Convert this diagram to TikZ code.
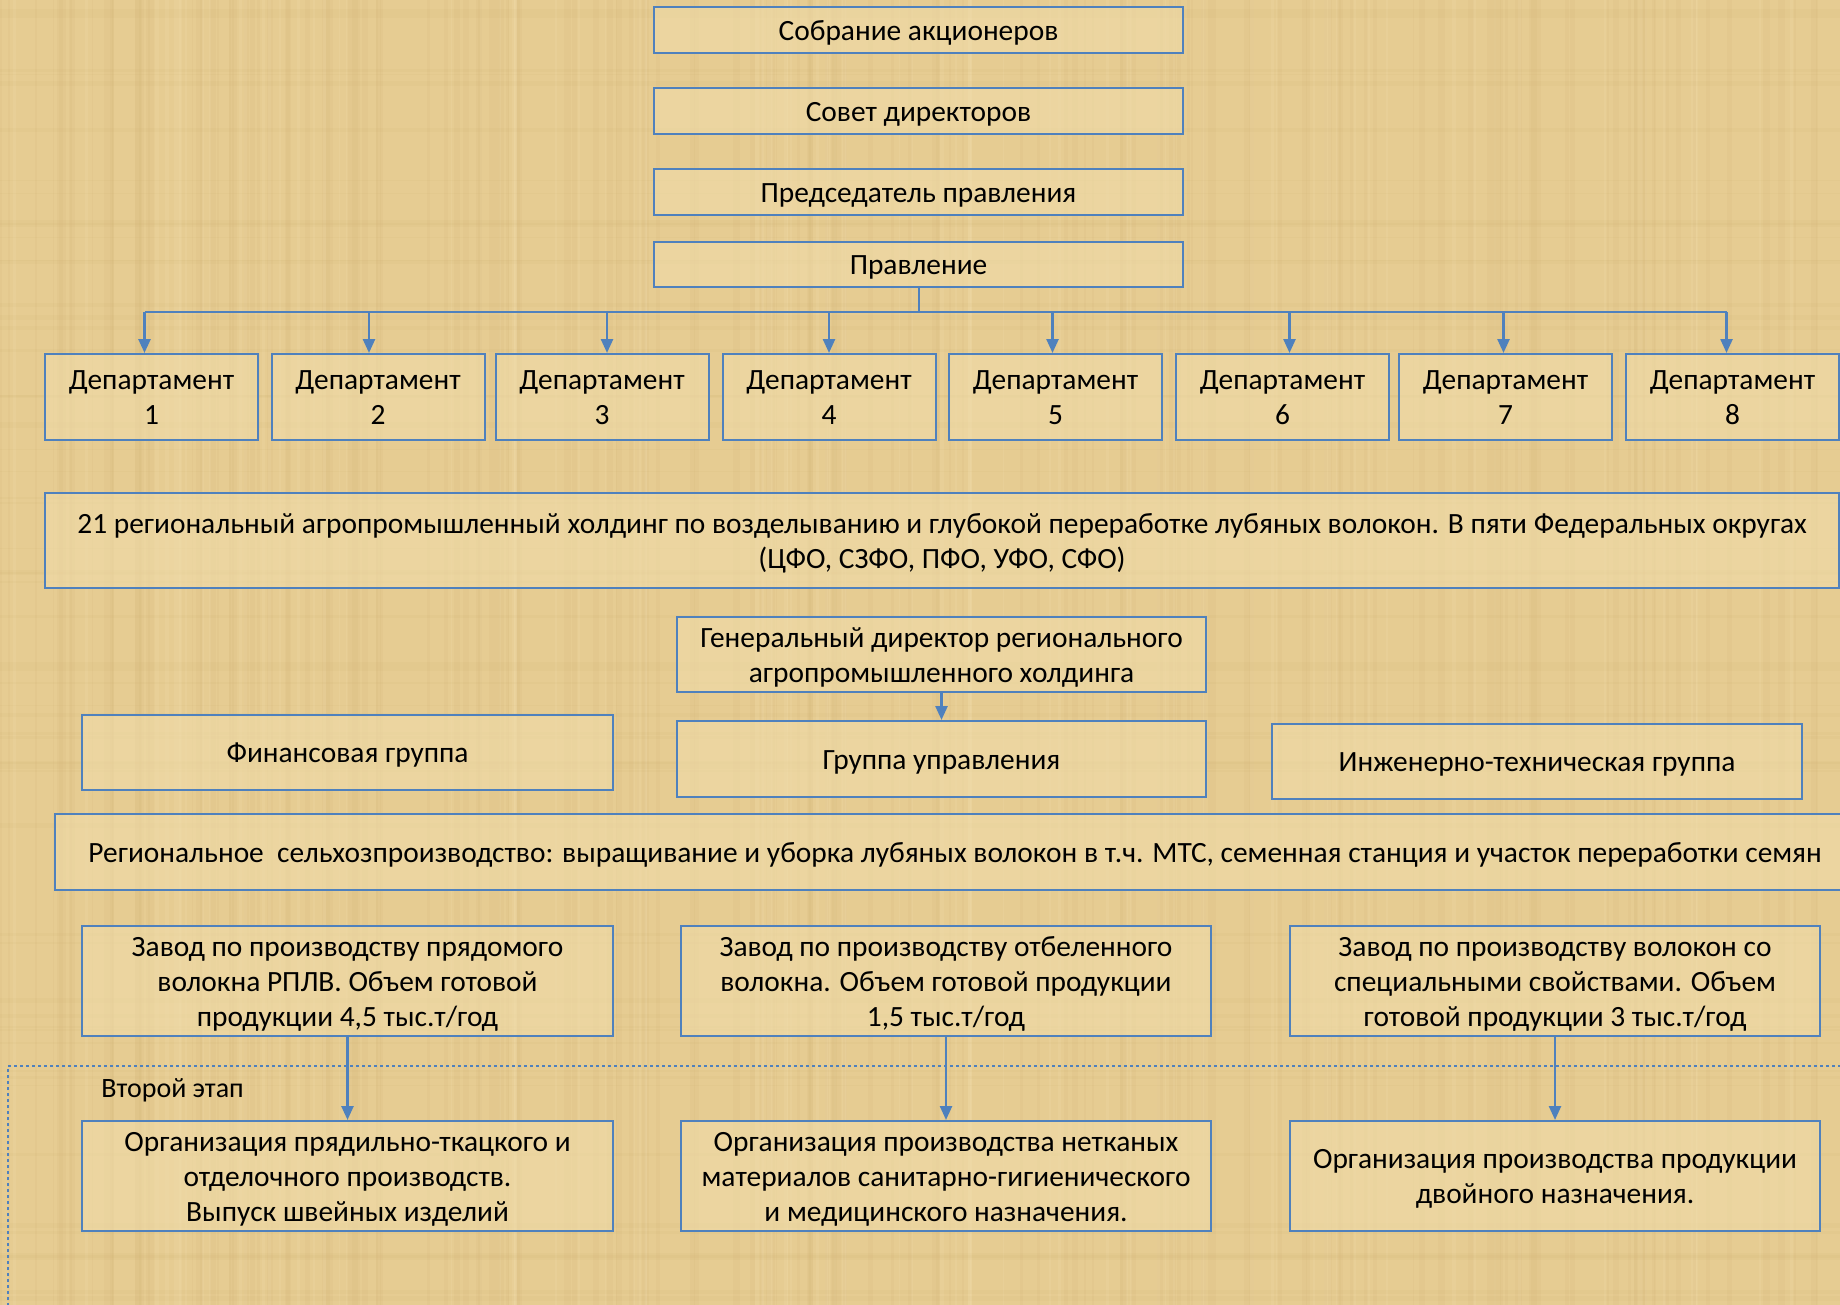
\documentclass[tikz,border=0pt]{standalone}
\usepackage{fontspec}
\setmainfont{Carlito}
\usetikzlibrary{arrows.meta}
\definecolor{bg}{RGB}{230,204,146}
\definecolor{boxfill}{RGB}{240,220,170}
\definecolor{ob}{RGB}{79,129,189}
\definecolor{streak}{RGB}{190,160,90}
\definecolor{light}{RGB}{250,232,190}
\tikzset{
  box/.style={draw=ob, line width=1pt, fill=boxfill, fill opacity=0.6, text opacity=1,
    inner sep=0pt, align=center, font=\fontsize{14.7}{17.6}\selectfont},
  one/.style={text height=15.62pt, text depth=5.28pt},
  two/.style={text height=32.22pt, text depth=4.28pt},
  three/.style={text height=49.32pt, text depth=3.78pt},
  arr/.style={draw=ob, line width=1.25pt, -{Triangle[length=7pt,width=6pt]}},
  conn/.style={draw=ob, line width=1pt},
}
\begin{document}
\begin{tikzpicture}[x=0.5pt,y=-0.5pt]
\fill[bg] (0,0) rectangle (1840,1305);
\useasboundingbox (0,0) rectangle (1840,1305);
\clip (0,0) rectangle (1840,1305);
% papyrus texture
\pgfmathsetseed{7}
\foreach \k in {1,...,160}{
  \pgfmathsetmacro{\xx}{rnd*1840}
  \pgfmathsetmacro{\ww}{1+rnd*6}
  \fill[streak, opacity=0.07] (\xx,0) rectangle ++(\ww,1305);
}
\foreach \k in {1,...,90}{
  \pgfmathsetmacro{\xx}{rnd*1840}
  \pgfmathsetmacro{\ww}{1+rnd*3}
  \fill[light, opacity=0.12] (\xx,0) rectangle ++(\ww,1305);
}
\foreach \k in {1,...,60}{
  \pgfmathsetmacro{\yy}{rnd*1305}
  \pgfmathsetmacro{\hh}{1+rnd*5}
  \fill[streak, opacity=0.06] (0,\yy) rectangle ++(1840,\hh);
}
% dashed second-stage frame
\draw[ob, line width=0.7pt, dash pattern=on 1.5pt off 1.5pt] (8,1330) -- (8,1066) -- (1860,1066);
% top chain
\node[box, one, minimum width=264.5pt, minimum height=23pt] (sob) at (918.5,30) {Собрание акционеров};
\node[box, one, minimum width=264.5pt, minimum height=23pt] (sov) at (918.5,111) {Совет директоров};
\node[box, one, minimum width=264.5pt, minimum height=23pt] (pred) at (918.5,192) {Председатель правления};
\node[box, one, minimum width=264.5pt, minimum height=22.5pt] (prav) at (918.5,264.5) {Правление};
% departments
\foreach \i/\x in {1/151.5,2/378,3/602,4/829,5/1055.5,6/1282.5,7/1505.5,8/1732.5}{
  \node[box, two, minimum width=106.5pt, minimum height=43pt] (d\i) at (\x,397) {Департамент\\\i};
}
\coordinate (bus) at (918.5,312);
\draw[conn] (prav.south) -- (prav.south |- bus);
\draw[conn] ([xshift=-3.5pt]d1.north |- bus) -- ([xshift=-3pt]d8.north |- bus);
\foreach \i/\o in {1/-3.5,2/-4.5,3/2.5,4/0,5/-1.5,6/3.5,7/-1,8/-3}{
  \draw[arr] ([xshift=\o pt]d\i.north |- bus) -- ([xshift=\o pt]d\i.north);
}
% holding
\node[box, two, minimum width=897pt, minimum height=47.5pt] (hold) at (942,540.5)
  {21 региональный агропромышленный холдинг по возделыванию и глубокой переработке лубяных волокон. В пяти Федеральных округах\\(ЦФО, СЗФО, ПФО, УФО, СФО)};
% general director and groups
\node[box, two, minimum width=264.5pt, minimum height=37.5pt] (gen) at (941.5,654.5)
  {Генеральный директор регионального\\агропромышленного холдинга};
\node[box, one, minimum width=265.5pt, minimum height=37.5pt] (fin) at (347.5,752.5) {Финансовая группа};
\node[box, one, minimum width=264.5pt, minimum height=38pt] (gru) at (941.5,759) {Группа управления};
\node[box, one, minimum width=265pt, minimum height=37.5pt] (ing) at (1537,761.5) {Инженерно-техническая группа};
\draw[arr] (gen.south) -- (gru.north);
% regional production
\node[box, one, minimum width=900pt, minimum height=38pt] (sel) at (955,852)
  {Региональное\ \ сельхозпроизводство: выращивание и уборка лубяных волокон в т.ч. МТС, семенная станция и участок переработки семян};
% plants
\node[box, three, minimum width=265.5pt, minimum height=55pt] (z1) at (347.5,981)
  {Завод по производству прядомого\\волокна РПЛВ. Объем готовой\\продукции 4,5 тыс.т/год};
\node[box, three, minimum width=265pt, minimum height=55pt] (z2) at (946,981)
  {Завод по производству отбеленного\\волокна. Объем готовой продукции\\1,5 тыс.т/год};
\node[box, three, minimum width=265pt, minimum height=55pt] (z3) at (1555,981)
  {Завод по производству волокон со\\специальными свойствами. Объем\\готовой продукции 3 тыс.т/год};
% second stage
\node[anchor=west, inner sep=0pt, font=\fontsize{14}{16}\selectfont] (stage) at (101,1090) {Второй этап};
\node[box, three, minimum width=265.5pt, minimum height=55pt] (o1) at (347.5,1176)
  {Организация прядильно-ткацкого и\\отделочного производств.\\Выпуск швейных изделий};
\node[box, three, minimum width=265pt, minimum height=55pt] (o2) at (946,1176)
  {Организация производства нетканых\\материалов санитарно-гигиенического\\и медицинского назначения.};
\node[box, two, minimum width=265pt, minimum height=55pt] (o3) at (1555,1176)
  {Организация производства продукции\\двойного назначения.};
\draw[arr] (z1.south) -- (o1.north);
\draw[arr] (z2.south) -- (o2.north);
\draw[arr] (z3.south) -- (o3.north);
\end{tikzpicture}
\end{document}
